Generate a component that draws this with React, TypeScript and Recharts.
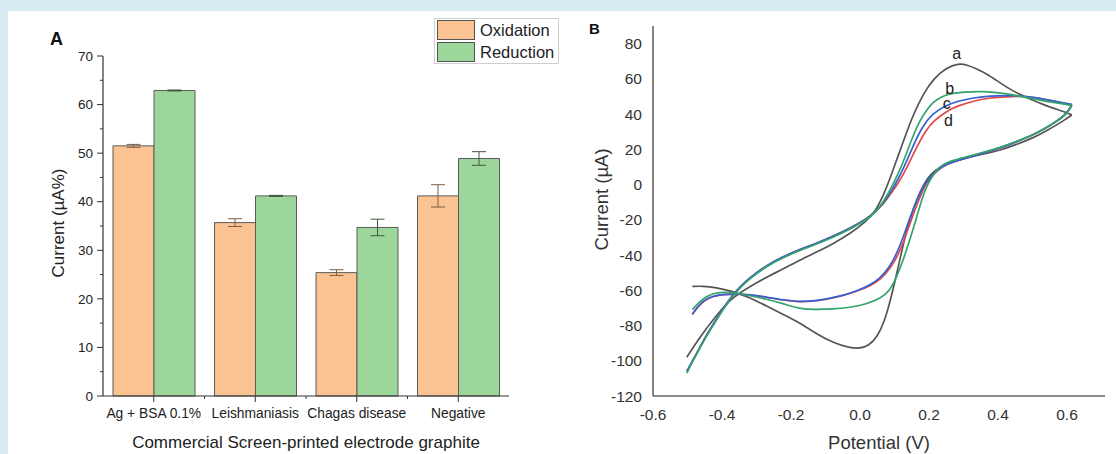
import {
  BarChart,
  Bar,
  XAxis,
  YAxis,
  ErrorBar,
  Legend,
  Label,
  LineChart,
  Line,
  ReferenceDot,
} from "recharts"

const FONT = "'Liberation Sans', Arial, sans-serif"

// panel A: bars
const categories = ["Ag + BSA 0.1%", "Leishmaniasis", "Chagas disease", "Negative"]
const oxidation = [51.5, 35.7, 25.4, 41.2]
const oxidationErr = [0.3, 0.8, 0.6, 2.3]
const reduction = [62.9, 41.2, 34.7, 48.9]
const reductionErr = [0.1, 0.1, 1.7, 1.4]
const barTicks = [0, 5, 10, 15, 20, 25, 30, 35, 40, 45, 50, 55, 60, 65, 70]

// panel B: cyclic voltammograms, [potential V, current uA]
const aForward = [
  [-0.502, -98], [-0.466, -87], [-0.418, -74.5], [-0.37, -64], [-0.32, -58],
  [-0.272, -52.7], [-0.224, -48], [-0.176, -43], [-0.128, -38.5], [-0.079, -33.7],
  [-0.03, -28], [0.018, -21], [0.045, -15], [0.068, -6], [0.088, 4], [0.108, 15],
  [0.13, 27], [0.155, 40], [0.183, 51.5], [0.215, 60.5], [0.25, 66.3], [0.285, 68.8],
  [0.31, 68], [0.34, 65.5], [0.37, 62.5], [0.4, 58.5], [0.435, 54], [0.47, 50.5],
  [0.502, 47.8], [0.53, 45.5], [0.56, 43.3], [0.59, 41.5], [0.614, 39.5],
]
const aReverse = [
  [0.614, 39.5], [0.595, 37], [0.58, 35], [0.54, 30.5], [0.502, 26.5], [0.45, 22.5],
  [0.406, 19.5], [0.36, 17.3], [0.309, 15.3], [0.27, 13], [0.231, 10], [0.205, 6],
  [0.185, 0.5], [0.165, -8], [0.145, -19], [0.13, -30], [0.115, -43], [0.1, -56],
  [0.085, -68], [0.07, -78], [0.05, -86.5], [0.025, -91.5], [0, -93], [-0.03, -92.7],
  [-0.079, -89.7], [-0.128, -84.5], [-0.176, -78.3], [-0.224, -73.6], [-0.272, -68.8],
  [-0.321, -64], [-0.37, -60.5], [-0.418, -58.4], [-0.455, -57.6], [-0.486, -57.8],
]
const bForward = [
  [-0.502, -107], [-0.484, -100], [-0.466, -93.5], [-0.442, -85], [-0.418, -77.5],
  [-0.394, -70], [-0.37, -63.5], [-0.345, -58], [-0.32, -53.5], [-0.272, -46.5],
  [-0.224, -41.5], [-0.176, -37.5], [-0.128, -34], [-0.079, -30], [-0.03, -25.5],
  [0.018, -20], [0.045, -16], [0.07, -9], [0.09, -2], [0.11, 6], [0.128, 14],
  [0.15, 26], [0.173, 36.4], [0.195, 43], [0.212, 46.8], [0.235, 49.8], [0.26, 51.6],
  [0.3, 52.6], [0.357, 53], [0.41, 52], [0.454, 50.6], [0.49, 49.2], [0.522, 47.8],
  [0.57, 46.3], [0.614, 45],
]
const bReverse = [
  [0.614, 45], [0.6, 40], [0.57, 35.8], [0.541, 32.3], [0.5, 28], [0.454, 24.5],
  [0.41, 21.3], [0.357, 18.3], [0.32, 16.3], [0.28, 14.3], [0.25, 12.5], [0.23, 10],
  [0.21, 5], [0.193, -1], [0.178, -9], [0.164, -18.6], [0.145, -31], [0.125, -43],
  [0.105, -53], [0.086, -60.3], [0.06, -64.5], [0.018, -67.9], [-0.03, -69.8],
  [-0.079, -70.7], [-0.13, -71], [-0.176, -70.5], [-0.224, -67.5], [-0.272, -65],
  [-0.32, -63], [-0.36, -61.5], [-0.399, -61], [-0.425, -61.8], [-0.447, -63.7],
  [-0.468, -67], [-0.486, -71],
]
const cForward = [
  [-0.502, -106], [-0.484, -99.5], [-0.466, -93], [-0.442, -84.5], [-0.418, -77],
  [-0.394, -69.5], [-0.37, -63], [-0.345, -57.5], [-0.32, -53], [-0.272, -46],
  [-0.224, -41], [-0.176, -37], [-0.128, -33.5], [-0.079, -29.5], [-0.03, -25],
  [0.018, -19.5], [0.045, -15.5], [0.07, -10], [0.09, -4], [0.11, 3], [0.13, 11],
  [0.154, 22], [0.18, 33], [0.212, 40.5], [0.245, 44.5], [0.28, 47.3], [0.33, 49.3],
  [0.377, 50.4], [0.44, 50.6], [0.503, 49.7], [0.56, 47.5], [0.614, 45.5],
]
const cReverse = [
  [0.614, 45.5], [0.6, 40.5], [0.57, 36], [0.541, 32.3], [0.5, 28], [0.454, 24.3],
  [0.41, 21], [0.357, 17.8], [0.32, 15.8], [0.28, 13.5], [0.25, 11.5], [0.225, 8.5],
  [0.2, 3.5], [0.183, -1], [0.165, -9], [0.144, -19], [0.125, -30], [0.106, -39.4],
  [0.085, -47], [0.057, -53.5], [0.025, -57.5], [-0.011, -60.5], [-0.05, -63],
  [-0.098, -65], [-0.14, -66.2], [-0.176, -66.5], [-0.224, -65.5], [-0.272, -63.8],
  [-0.32, -62.5], [-0.36, -62], [-0.399, -62.3], [-0.425, -63.3], [-0.447, -65],
  [-0.468, -68.5], [-0.486, -73.6],
]
const dForward = [
  [-0.502, -106], [-0.484, -99.5], [-0.466, -93], [-0.442, -84.5], [-0.418, -77],
  [-0.394, -69.5], [-0.37, -63], [-0.345, -57.5], [-0.32, -53], [-0.272, -46],
  [-0.224, -41], [-0.176, -37], [-0.128, -33.5], [-0.079, -29.5], [-0.03, -25],
  [0.018, -19.5], [0.045, -15.5], [0.07, -10.5], [0.09, -5], [0.11, 0.5], [0.135, 9],
  [0.163, 21], [0.19, 30.5], [0.212, 36], [0.25, 41.5], [0.28, 44.5], [0.33, 47.5],
  [0.377, 49.3], [0.44, 50.2], [0.503, 49.7], [0.56, 47.3], [0.614, 45],
]
const dReverse = [
  [0.614, 45], [0.6, 40.5], [0.57, 36], [0.541, 32.3], [0.5, 28], [0.454, 24.3],
  [0.41, 21], [0.357, 17.8], [0.32, 15.8], [0.28, 13.5], [0.25, 11.5], [0.225, 8.3],
  [0.2, 3], [0.187, -1], [0.17, -9], [0.15, -19], [0.131, -30], [0.112, -39.4],
  [0.09, -47], [0.062, -53.5], [0.03, -57.5], [-0.011, -60.7], [-0.05, -63.2],
  [-0.098, -65.2], [-0.14, -66.4], [-0.176, -66.6], [-0.224, -65.6], [-0.272, -63.9],
  [-0.32, -62.6], [-0.36, -62.1], [-0.399, -62.4], [-0.425, -63.4], [-0.447, -65.2],
  [-0.468, -68.7], [-0.486, -73.8],
]
const cvTicksX = [-0.6, -0.4, -0.2, 0, 0.2, 0.4, 0.6]
const cvTicksY = [-120, -100, -80, -60, -40, -20, 0, 20, 40, 60, 80]
const curveLabels = [
  { name: "a", x: 0.28, y: 74.3 },
  { name: "b", x: 0.26, y: 54.4 },
  { name: "c", x: 0.251, y: 45.9 },
  { name: "d", x: 0.256, y: 36.4 },
]

const barData = categories.map((name, i) => ({
  name,
  oxidation: oxidation[i],
  oxidationErr: oxidationErr[i],
  reduction: reduction[i],
  reductionErr: reductionErr[i],
}))

const toPoints = (arr: number[][]) => arr.map(([x, y]) => ({ x, y }))

const curves = [
  { id: "a", color: "#555555", forward: aForward, reverse: aReverse },
  { id: "d", color: "#e34848", forward: dForward, reverse: dReverse },
  { id: "c", color: "#3461d1", forward: cForward, reverse: cReverse },
  { id: "b", color: "#33a36c", forward: bForward, reverse: bReverse },
]

const ORANGE = "#fcc392"
const GREEN = "#9dd69b"
const BAND = 406 / categories.length

function BarYTick({ x, y, payload }: any) {
  const major = payload.value % 10 === 0
  return (
    <g>
      <line x1={x - (major ? 6 : 3)} x2={x} y1={y} y2={y} stroke="#333" strokeWidth={1} />
      {major && (
        <text x={x - 10} y={y} dy="0.35em" textAnchor="end" fontSize={13.5} fill="#222" fontFamily={FONT}>
          {payload.value}
        </text>
      )}
    </g>
  )
}

function BarXTick({ x, y, payload, index }: any) {
  return (
    <g>
      <line x1={x} x2={x} y1={y} y2={y + 6} stroke="#333" strokeWidth={1} />
      {index < categories.length - 1 && (
        <line x1={x + BAND / 2} x2={x + BAND / 2} y1={y} y2={y + 3} stroke="#333" strokeWidth={1} />
      )}
      <text x={x} y={y + 22} textAnchor="middle" fontSize={13.8} fill="#222" fontFamily={FONT}>
        {payload.value}
      </text>
    </g>
  )
}

function LegendBox() {
  const rows = [
    { label: "Oxidation", color: ORANGE },
    { label: "Reduction", color: GREEN },
  ]
  return (
    <div
      style={{
        width: 125,
        height: 46,
        boxSizing: "border-box",
        border: "1px solid #cfcfcf",
        background: "#fff",
        position: "relative",
        fontFamily: FONT,
      }}
    >
      {rows.map((r, i) => (
        <div key={r.label}>
          <div
            style={{
              position: "absolute",
              left: 2,
              top: 1 + i * 22,
              width: 38,
              height: 20,
              boxSizing: "border-box",
              border: "1px solid #555",
              background: r.color,
            }}
          />
          <div
            style={{
              position: "absolute",
              left: 45,
              top: 1 + i * 22,
              height: 20,
              lineHeight: "20px",
              fontSize: 16.5,
              color: "#222",
            }}
          >
            {r.label}
          </div>
        </div>
      ))}
    </div>
  )
}

export default function App() {
  return (
    <div
      style={{
        position: "absolute",
        left: 0,
        top: 0,
        width: 1116,
        height: 454,
        background: "#d6ebf2",
        overflow: "hidden",
        fontFamily: FONT,
      }}
    >
      <div style={{ position: "absolute", left: 8, top: 11, width: 1108, height: 443, background: "#fff" }} />

      <div style={{ position: "absolute", left: 0, top: 0 }}>
        <BarChart
          width={560}
          height={454}
          data={barData}
          barSize={41}
          barGap={0}
          margin={{ top: 56, right: 51, bottom: 0, left: 0 }}
        >
          <XAxis
            dataKey="name"
            interval={0}
            height={58}
            tickLine={false}
            tickSize={0}
            tickMargin={0}
            axisLine={{ stroke: "#333", strokeWidth: 1.2 }}
            tick={<BarXTick />}
          >
            <Label
              content={(p: any) => (
                <text
                  x={p.viewBox.x + p.viewBox.width / 2}
                  y={p.viewBox.y + 52}
                  textAnchor="middle"
                  fontSize={17}
                  fill="#222"
                  fontFamily={FONT}
                >
                  Commercial Screen-printed electrode graphite
                </text>
              )}
            />
          </XAxis>
          <YAxis
            width={103}
            domain={[0, 70]}
            ticks={barTicks}
            interval={0}
            tickLine={false}
            tickSize={0}
            tickMargin={0}
            axisLine={{ stroke: "#333", strokeWidth: 1.2 }}
            tick={<BarYTick />}
          >
            <Label
              content={(p: any) => {
                const cx = p.viewBox.x + 58
                const cy = p.viewBox.y + p.viewBox.height / 2 - 3
                return (
                  <text
                    x={cx}
                    y={cy}
                    transform={`rotate(-90 ${cx} ${cy})`}
                    textAnchor="middle"
                    dominantBaseline="central"
                    fontSize={17}
                    fill="#222"
                    fontFamily={FONT}
                  >
                    Current (µA%)
                  </text>
                )
              }}
            />
          </YAxis>
          <Legend
            layout="vertical"
            align="center"
            verticalAlign="middle"
            content={() => <LegendBox />}
            wrapperStyle={{ left: 434, top: 18, width: 125, height: 46 }}
          />
          <Bar dataKey="oxidation" name="Oxidation" fill={ORANGE} stroke="#5a5a5a" strokeWidth={1} isAnimationActive={false}>
            <ErrorBar dataKey="oxidationErr" width={7} stroke="#7d5d42" strokeWidth={1} />
          </Bar>
          <Bar dataKey="reduction" name="Reduction" fill={GREEN} stroke="#5a5a5a" strokeWidth={1} isAnimationActive={false}>
            <ErrorBar dataKey="reductionErr" width={7} stroke="#3d5a3d" strokeWidth={1} />
          </Bar>
        </BarChart>
      </div>

      <div style={{ position: "absolute", left: 560, top: 0 }}>
        <LineChart width={556} height={454} margin={{ top: 26, right: 11, bottom: 0, left: 0 }}>
          <XAxis
            type="number"
            dataKey="x"
            domain={[-0.6, 0.71]}
            ticks={cvTicksX}
            allowDataOverflow
            height={58}
            tickLine={false}
            tickSize={0}
            tickMargin={13}
            tickFormatter={(v: number) => v.toFixed(1)}
            axisLine={{ stroke: "#666", strokeWidth: 1.6 }}
            tick={{ fontSize: 15.5, fill: "#333", fontFamily: FONT }}
          >
            <Label
              content={(p: any) => (
                <text
                  x={p.viewBox.x + p.viewBox.width / 2}
                  y={p.viewBox.y + 53}
                  textAnchor="middle"
                  fontSize={18.5}
                  fill="#333"
                  fontFamily={FONT}
                >
                  Potential (V)
                </text>
              )}
            />
          </XAxis>
          <YAxis
            type="number"
            dataKey="y"
            domain={[-120, 90]}
            ticks={cvTicksY}
            allowDataOverflow
            width={93}
            tickLine={false}
            tickSize={0}
            tickMargin={11}
            axisLine={{ stroke: "#666", strokeWidth: 1.6 }}
            tick={{ fontSize: 15.5, fill: "#333", fontFamily: FONT }}
          >
            <Label
              content={(p: any) => {
                const cx = p.viewBox.x + 41.5
                const cy = p.viewBox.y + p.viewBox.height / 2 - 11.5
                return (
                  <text
                    x={cx}
                    y={cy}
                    transform={`rotate(-90 ${cx} ${cy})`}
                    textAnchor="middle"
                    dominantBaseline="central"
                    fontSize={18.5}
                    fill="#333"
                    fontFamily={FONT}
                  >
                    Current (µA)
                  </text>
                )
              }}
            />
          </YAxis>
          {curves.flatMap((c) => [
            <Line
              key={c.id + "f"}
              data={toPoints(c.forward)}
              dataKey="y"
              type="basis"
              stroke={c.color}
              strokeWidth={1.7}
              dot={false}
              activeDot={false}
              isAnimationActive={false}
            />,
            <Line
              key={c.id + "r"}
              data={toPoints(c.reverse)}
              dataKey="y"
              type="basis"
              stroke={c.color}
              strokeWidth={1.7}
              dot={false}
              activeDot={false}
              isAnimationActive={false}
            />,
          ])}
          {curveLabels.map((l) => (
            <ReferenceDot
              key={l.name}
              x={l.x}
              y={l.y}
              r={0}
              fill="none"
              stroke="none"
              label={{ value: l.name, position: "center", fontSize: 16, fill: "#222", fontFamily: FONT }}
            />
          ))}
        </LineChart>
      </div>

      <div style={{ position: "absolute", left: 50, top: 29, fontSize: 18, fontWeight: "bold", color: "#111" }}>A</div>
      <div style={{ position: "absolute", left: 589, top: 20, fontSize: 15, fontWeight: "bold", color: "#111" }}>B</div>
    </div>
  )
}
